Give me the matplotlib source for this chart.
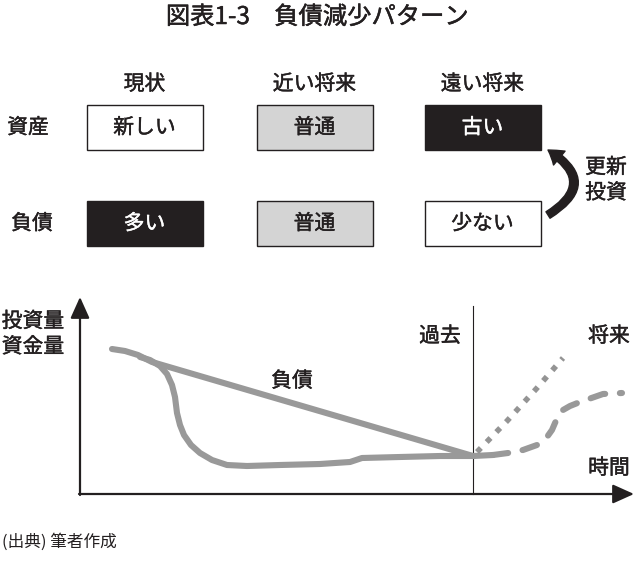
import matplotlib
matplotlib.use("Agg")
import matplotlib.pyplot as plt
import matplotlib.patheffects as pe
from matplotlib.patches import Rectangle, FancyArrowPatch

plt.rcParams['font.family'] = ['Noto Sans CJK JP', 'DejaVu Sans']

# ---- data -------------------------------------------------------------
title = "図表1-3　負債減少パターン"
col_headers = ["現状", "近い将来", "遠い将来"]
row_labels = ["資産", "負債"]
asset_states = ["新しい", "普通", "古い"]
debt_states = ["多い", "普通", "少ない"]
asset_fill = ["white", "#d4d4d4", "#231f20"]
debt_fill = ["#231f20", "#d4d4d4", "white"]
renew_label = "更新\n投資"
y_axis_label = "投資量\n資金量"
x_axis_label = "時間"
past_label = "過去"
future_label = "将来"
debt_label = "負債"
source = "(出典) 筆者作成"

# curves (pixel space of the diagram)
debt_x = [112, 125, 138, 152, 473]
debt_y = [349, 351, 355, 362, 456]
fund_x = [140, 150, 160, 167, 172, 175, 177, 180, 184, 191, 200, 212, 227, 247,
          280, 320, 350, 356, 362, 400, 440, 473, 493]
fund_y = [357, 360, 366, 374, 385, 397, 413, 425, 435, 445, 453, 460, 465, 466,
          465, 464, 462, 460, 458, 457, 456, 456, 455]
dotted_x = [477, 507, 537, 563]
dotted_y = [452, 421, 388, 358]
dashed_x = [493, 508, 523, 537, 547, 552, 555, 559, 563, 570, 580, 603, 622]
dashed_y = [455, 453, 450, 445, 437, 430, 423, 415, 410, 406, 402, 394, 393]

# ---- layout -------------------------------------------------------------
W, H = 636, 563
fig = plt.figure(figsize=(W / 100, H / 100), dpi=100)
ax = fig.add_axes([0, 0, 1, 1])
ax.set_xlim(0, W)
ax.set_ylim(H, 0)
ax.axis('off')

txt = '#231f20'
fs = 15


def label(x, y, s, color=txt, size=fs, stroke=0.3, **kw):
    t = ax.text(x, y, s, ha=kw.pop('ha', 'center'), va='center', fontsize=size,
                color=color, **kw)
    if stroke:
        t.set_path_effects([pe.withStroke(linewidth=stroke, foreground=color)])
    return t


label(317, 17, title, size=17.5, stroke=0.35)

col_x = [144.5, 314.5, 482.5]
box_w, box_h = 116, 45
row_y = [127.5, 223.5]

for cx, h in zip(col_x, col_headers):
    label(cx, 84, h)

label(28, row_y[0], row_labels[0])
label(32, row_y[1], row_labels[1])

for states, fills, ry in [(asset_states, asset_fill, row_y[0]),
                          (debt_states, debt_fill, row_y[1])]:
    for cx, s, f in zip(col_x, states, fills):
        ax.add_patch(Rectangle((cx - box_w / 2, ry - box_h / 2), box_w, box_h,
                               facecolor=f, edgecolor=txt, lw=1.0))
        tc = 'white' if f == "#231f20" else txt
        label(cx, ry, s, color=tc)

# renewal arrow
arr = FancyArrowPatch((548, 215), (548, 150),
                      connectionstyle="arc3,rad=0.8",
                      arrowstyle="simple,head_length=1.0,head_width=1.3,tail_width=0.55",
                      mutation_scale=10, color=txt, shrinkA=0, shrinkB=0)
ax.add_patch(arr)
label(606, 180, renew_label, linespacing=1.2)

# chart axes
ax.add_patch(FancyArrowPatch((80, 495), (80, 297),
                             arrowstyle="-|>,head_length=1.0,head_width=0.45",
                             mutation_scale=13, color=txt, lw=1.6,
                             shrinkA=0, shrinkB=0))
ax.add_patch(FancyArrowPatch((79, 494), (634, 494),
                             arrowstyle="-|>,head_length=1.0,head_width=0.45",
                             mutation_scale=13, color=txt, lw=1.6,
                             shrinkA=0, shrinkB=0))
ax.plot([473, 473], [306, 494], color=txt, lw=0.8)

gray = '#999999'
lw = 4.4
ax.plot(fund_x, fund_y, color=gray, lw=lw, solid_capstyle='round',
        solid_joinstyle='round')
ax.plot(debt_x, debt_y, color=gray, lw=lw, solid_capstyle='round',
        solid_joinstyle='round')
ax.plot(dotted_x, dotted_y, color='#949494', lw=4.0, dashes=(1.0, 1.5),
        dash_capstyle='butt')
ax.plot(dashed_x, dashed_y, color=gray, lw=lw, dashes=(2.5, 2.4),
        dash_capstyle='round', dash_joinstyle='round')

label(33, 334, y_axis_label, linespacing=1.2)
label(292, 381, debt_label)
label(440, 336, past_label)
label(609, 336, future_label)
label(609, 468, x_axis_label)

label(2, 542, source, size=12, stroke=0, ha='left')

fig.savefig("out.png", dpi=100)
